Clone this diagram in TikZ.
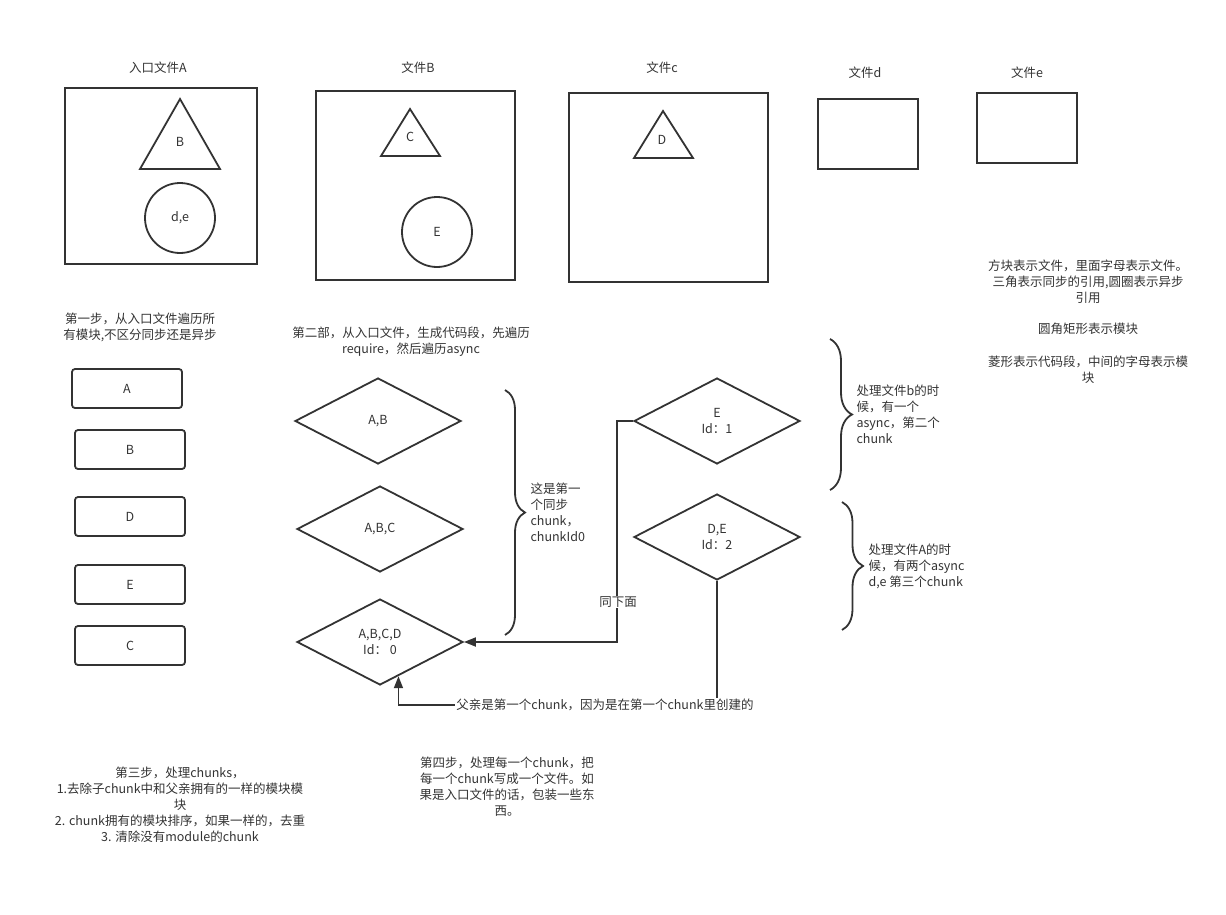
\documentclass[tikz,border=0pt]{standalone}
\usepackage{fontspec}
\setmainfont{Noto Sans CJK SC}
\usetikzlibrary{shapes.geometric,arrows.meta,decorations.pathreplacing,calc}

\definecolor{ink}{HTML}{333333}

\begin{document}
\begin{tikzpicture}[x=1pt, y=-1pt, >=Stealth,
    every node/.style={font=\fontsize{12.5}{16}\selectfont, text=ink},
    outline/.style={draw=ink, line width=1.8pt},
    filebox/.style={outline, rectangle, inner sep=0pt},
    modbox/.style={outline, rectangle, rounded corners=3pt, minimum width=110pt, minimum height=39pt},
    chunk/.style={outline, diamond, inner sep=0pt, minimum width=166pt, minimum height=86pt, align=center},
    async/.style={outline, circle, inner sep=0pt, minimum size=70pt},
    link/.style={draw=ink, line width=1.8pt, -{Triangle[length=12pt,width=9pt]}},
    curly/.style={draw=ink, line width=1.8pt, decorate}]

    \useasboundingbox (0,0) rectangle (1226,915);

    % 文件
    \node[filebox, minimum width=192pt, minimum height=176pt] (fa) at (161,176) {};
    \node (fatitle) at (158,68) {入口文件A};
    \node[filebox, minimum width=199pt, minimum height=189pt] (fb) at (415.5,185.5) {};
    \node (fbtitle) at (418,68) {文件B};
    \node[filebox, minimum width=199pt, minimum height=189pt] (fc) at (668.5,187.5) {};
    \node (fctitle) at (662,68) {文件c};
    \node[filebox, minimum width=100pt, minimum height=70pt] (fd) at (868,134) {};
    \node (fdtitle) at (865,73) {文件d};
    \node[filebox, minimum width=100pt, minimum height=70pt] (fe) at (1027,128) {};
    \node (fetitle) at (1027,73) {文件e};

    % 同步引用（三角）
    \draw[outline, line join=miter] (180,99) -- (220,169) -- (140,169) -- cycle;
    \node (refb) at (180,142) {B};
    \draw[outline, line join=miter] (410,109) -- (440,156) -- (381,156) -- cycle;
    \node (refc) at (410,137) {C};
    \draw[outline, line join=miter] (663,111) -- (693,158) -- (634,158) -- cycle;
    \node (refd) at (662,140) {D};

    % 异步引用（圆圈）
    \node[async] (refde) at (180,218) {d,e};
    \node[async] (refe) at (437,232) {E};

    % 图例
    \node[align=center] (legend1) at (1088,282) {方块表示文件，里面字母表示文件。\\三角表示同步的引用,圆圈表示异步\\引用};
    \node (legend2) at (1088,329) {圆角矩形表示模块};
    \node[align=center] (legend3) at (1088,370) {菱形表示代码段，中间的字母表示模\\块};

    % 第一步：模块
    \node[align=center] (step1) at (140,327) {第一步，从入口文件遍历所\\有模块,不区分同步还是异步};
    \node[modbox] (ma) at (127,388.5) {A};
    \node[modbox] (mb) at (130,449.5) {B};
    \node[modbox] (md) at (130,516.5) {D};
    \node[modbox] (me) at (130,584.5) {E};
    \node[modbox] (mc) at (130,645.5) {C};

    % 第二步：代码段
    \node[align=center] (step2) at (411,342) {第二部，从入口文件，生成代码段，先遍历\\require，然后遍历async};
    \node[chunk] (ab) at (378,421) {A,B};
    \node[chunk] (abc) at (380,529) {A,B,C};
    \node[chunk] (abcd) at (380,642) {A,B,C,D\\Id：~0};
    \node[chunk] (e) at (717,421) {E\\Id：1};
    \node[chunk] (de) at (717,537) {D,E\\Id：2};

    % 括号
    \draw[curly, decoration={brace, amplitude=20pt}] (505,390) -- (505,635);
    \node[align=left, anchor=west] (sync) at (527,512) {这是第一\\个同步\\chunk，\\chunkId0};
    \draw[curly, decoration={brace, amplitude=22pt}] (830,339) -- (830,490);
    \node[align=left, anchor=west] (asyncb) at (853,414) {处理文件b的时\\候，有一个\\async，第二个\\chunk};
    \draw[curly, decoration={brace, amplitude=21pt}] (842,502) -- (842,630);
    \node[align=left, anchor=west] (asynca) at (865,566) {处理文件A的时\\候，有两个async\\d,e 第三个chunk};

    % 父 chunk
    \draw[link] (e.west) -- ++(-16,0) |- (abcd.east);
    \node[fill=white, inner sep=1pt] (same) at (618,602) {同下面};
    \coordinate (pin) at ($(abcd.south)!0.22!(abcd.east)$);
    \coordinate (bend) at (0,705);
    \draw[link] (de.south) |- (bend -| pin) -- (pin);
    \node[fill=white, inner sep=1pt] (parent) at (605,705) {父亲是第一个chunk，因为是在第一个chunk里创建的};

    % 第三步、第四步
    \node[align=center] (step3) at (180,805) {第三步，处理chunks，\\1.去除子chunk中和父亲拥有的一样的模块模\\块\\2. chunk拥有的模块排序，如果一样的，去重\\3. 清除没有module的chunk};
    \node[align=center] (step4) at (507,787) {第四步，处理每一个chunk，把\\每一个chunk写成一个文件。如\\果是入口文件的话，包装一些东\\西。};

\end{tikzpicture}
\end{document}
